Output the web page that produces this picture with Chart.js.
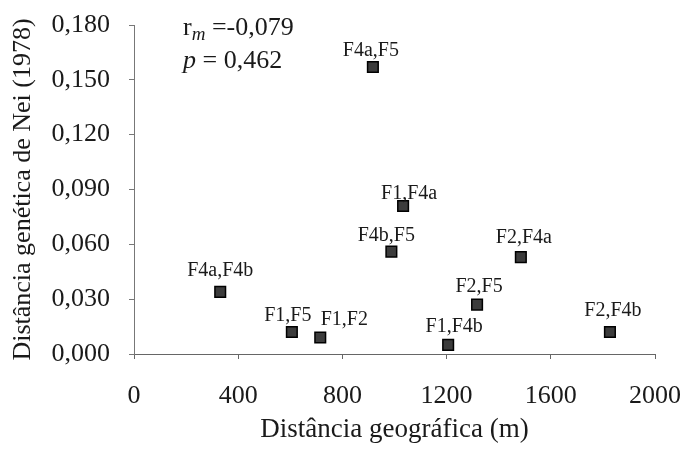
<!DOCTYPE html>
<html>
<head>
<meta charset="utf-8">
<script src="https://cdn.jsdelivr.net/npm/chart.js@4/dist/chart.umd.min.js"></script>
<style>
html,body{margin:0;padding:0;background:#fff;}
#wrap{width:684px;height:449px;position:relative;}
</style>
</head>
<body>
<div id="wrap"><canvas id="c" width="684" height="449"></canvas></div>
<script>
// ---- data ----
const pairLabels  = ['F4a,F5','F1,F4a','F4b,F5','F2,F4a','F4a,F4b','F2,F5','F1,F5','F1,F2','F2,F4b','F1,F4b'];
const geoDistance = [917, 1033, 988, 1485, 331, 1317, 606, 715, 1827, 1206];
const neiDistance = [0.157, 0.081, 0.056, 0.053, 0.034, 0.027, 0.012, 0.009, 0.012, 0.005];
const xTicks = [0, 400, 800, 1200, 1600, 2000];
const yTicks = [0, 0.03, 0.06, 0.09, 0.12, 0.15, 0.18];
const rmValue = '-0,079';
const pValue = '0,462';
const xTitle = 'Distância geográfica (m)';
const yTitle = 'Distância genética de Nei (1978)';

// ---- styling helpers ----
const FONT = "'Liberation Serif', 'Times New Roman', serif";
const TXT = '#1a1a1a';
const labelOffsets = {
  'F4a,F5': [-2, -11], 'F1,F4a': [6, -7], 'F4b,F5': [-5, -11], 'F2,F4a': [3, -14],
  'F4a,F4b': [0, -16], 'F2,F5': [2, -13], 'F1,F5': [-4, -11], 'F1,F2': [24, -13],
  'F2,F4b': [3, -16], 'F1,F4b': [6, -13]
};

const points = geoDistance.map((x, i) => ({x: x, y: neiDistance[i]}));

const pointLabelPlugin = {
  id: 'pointLabels',
  afterDatasetsDraw(chart) {
    const ctx = chart.ctx;
    const meta = chart.getDatasetMeta(0);
    ctx.save();
    ctx.font = '20px ' + FONT;
    ctx.fillStyle = TXT;
    ctx.textAlign = 'center';
    ctx.textBaseline = 'alphabetic';
    meta.data.forEach((el, i) => {
      const lab = pairLabels[i];
      const off = labelOffsets[lab] || [0, -12];
      ctx.fillText(lab, el.x + off[0], el.y + off[1]);
    });
    ctx.restore();
  }
};

const statsPlugin = {
  id: 'stats',
  afterDatasetsDraw(chart) {
    const ctx = chart.ctx;
    const a = chart.chartArea;
    const x0 = a.left + 49;
    ctx.save();
    ctx.fillStyle = TXT;
    ctx.textAlign = 'left';
    ctx.textBaseline = 'alphabetic';
    // r_m line
    let y1 = a.top + 10;
    ctx.font = '26px ' + FONT;
    ctx.fillText('r', x0, y1);
    let x = x0 + ctx.measureText('r').width;
    ctx.font = 'italic 19px ' + FONT;
    ctx.fillText('m', x, y1 + 5);
    x += ctx.measureText('m').width;
    ctx.font = '26px ' + FONT;
    ctx.fillText(' =' + rmValue, x, y1);
    // p line
    let y2 = a.top + 43;
    ctx.font = 'italic 26px ' + FONT;
    ctx.fillText('p', x0, y2);
    x = x0 + ctx.measureText('p').width;
    ctx.font = '26px ' + FONT;
    ctx.fillText(' = ' + pValue, x, y2);
    ctx.restore();
  }
};

const fmtComma = (v, d) => v.toFixed(d).replace('.', ',');

new Chart(document.getElementById('c'), {
  type: 'scatter',
  data: {
    datasets: [{
      data: points,
      pointStyle: 'rect',
      pointRadius: 7.5,
      pointHoverRadius: 7.5,
      backgroundColor: '#3c3c3c',
      borderColor: '#000',
      borderWidth: 1.5
    }]
  },
  options: {
    responsive: false,
    animation: false,
    devicePixelRatio: 1,
    layout: { padding: { top: 25, right: 29, left: 0, bottom: 0 } },
    plugins: { legend: { display: false }, tooltip: { enabled: false } },
    scales: {
      x: {
        type: 'linear',
        min: xTicks[0],
        max: xTicks[xTicks.length - 1],
        afterBuildTicks: (s) => { s.ticks = xTicks.map(v => ({value: v})); },
        afterFit: (s) => { s.height = 95; s.paddingLeft = 0; s.paddingRight = 0; },
        ticks: {
          font: { family: FONT, size: 26 },
          color: TXT,
          padding: 22,
          maxRotation: 0,
          callback: (v) => String(v)
        },
        grid: { display: true, drawOnChartArea: false, drawTicks: true, tickLength: 5, color: '#666' },
        border: { display: true, color: '#666', width: 1, dash: [7, 2] },
        title: {
          display: true, text: xTitle, color: TXT,
          font: { family: FONT, size: 27 },
          padding: { top: 0, bottom: 3 }
        }
      },
      y: {
        type: 'linear',
        min: yTicks[0],
        max: yTicks[yTicks.length - 1],
        afterBuildTicks: (s) => { s.ticks = yTicks.map(v => ({value: v})); },
        afterFit: (s) => { s.width = 134; s.paddingTop = 0; s.paddingBottom = 0; },
        ticks: {
          font: { family: FONT, size: 26 },
          color: TXT,
          padding: 19,
          callback: (v) => fmtComma(v, 3)
        },
        grid: { display: true, drawOnChartArea: false, drawTicks: true, tickLength: 5, color: '#777' },
        border: { display: true, color: '#777', width: 1 },
        title: {
          display: true, text: yTitle, color: TXT,
          font: { family: FONT, size: 26 },
          padding: { top: 8, bottom: 0 }
        }
      }
    }
  },
  plugins: [pointLabelPlugin, statsPlugin]
});
</script>
</body>
</html>
